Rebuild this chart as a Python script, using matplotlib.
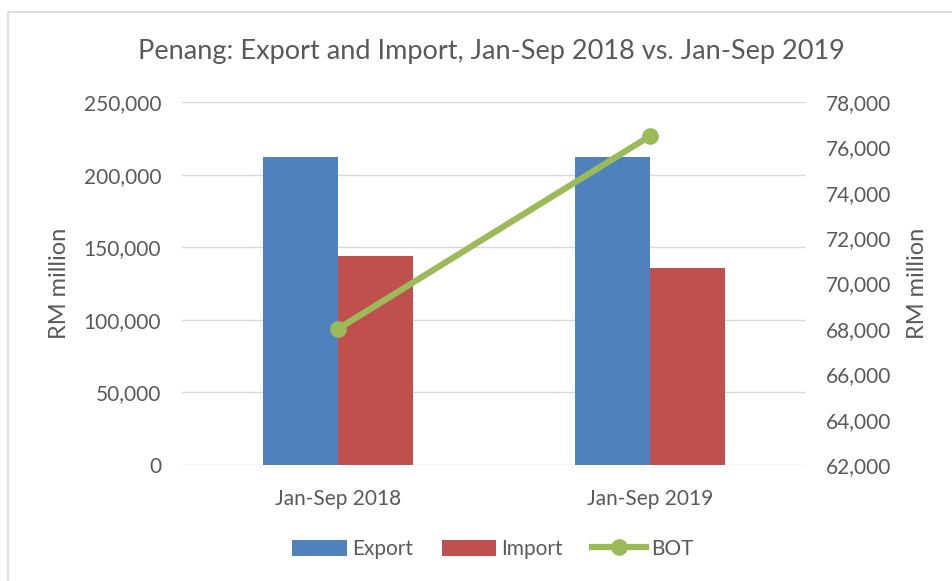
import numpy as np
import matplotlib
matplotlib.use("Agg")
from matplotlib import pyplot as plt
from matplotlib.ticker import FuncFormatter

plt.rcParams['font.family'] = ['Lato', 'DejaVu Sans']

# 데이터
categories = ["Jan-Sep 2018", "Jan-Sep 2019"]
export_vals = [212100, 212200]
import_vals = [144100, 135700]
bot_vals = [68000, 76500]

txt = "#595959"
grid = "#D9D9D9"

fig = plt.figure(figsize=(9.52, 5.81), dpi=100)
# 바깥 테두리
fig.patches.append(plt.Rectangle((8 / 952, -0.1), 1.1, 1 - 12 / 581 + 0.1, transform=fig.transFigure,
                                 fill=False, edgecolor=grid, lw=1.2))

ax = fig.add_axes([182 / 952, 1 - 465 / 581, 624 / 952, 363 / 581])
x = np.arange(len(categories))
w = 0.239
ax.bar(x - w / 2, export_vals, w, color="#4F81BD", label="Export", zorder=2)
ax.bar(x + w / 2, import_vals, w, color="#C0504D", label="Import", zorder=2)
ax.set_xlim(-0.5, 1.5)
ax.set_ylim(0, 250000)
ax.set_yticks(range(0, 250001, 50000))
ax.yaxis.set_major_formatter(FuncFormatter(lambda v, p: f"{int(v):,}"))
ax.set_xticks(x)
ax.set_xticklabels(categories)
ax.grid(axis="y", color=grid, lw=1, zorder=0)
for s in ax.spines.values():
    s.set_visible(False)
ax.tick_params(length=0, labelsize=15, colors=txt)
ax.tick_params(axis="y", pad=15)
ax.tick_params(axis="x", pad=17)
ax.set_ylabel("RM million", fontsize=17, color=txt, labelpad=10)

ax2 = ax.twinx()
ax2.plot(x, bot_vals, color="#9BBB59", lw=4.5, marker="o", markersize=11, label="BOT", zorder=3)
ax2.set_ylim(62000, 78000)
ax2.set_yticks(range(62000, 78001, 2000))
ax2.yaxis.set_major_formatter(FuncFormatter(lambda v, p: f"{int(v):,}"))
for s in ax2.spines.values():
    s.set_visible(False)
ax2.tick_params(length=0, labelsize=15, colors=txt, pad=14)
ax2.set_ylabel("RM million", fontsize=17, color=txt, labelpad=12)

fig.text(0.516, 1 - 52 / 581, "Penang: Export and Import, Jan-Sep 2018 vs. Jan-Sep 2019",
         ha="center", va="center", fontsize=19.5, color=txt)

h1, l1 = ax.get_legend_handles_labels()
h2, l2 = ax2.get_legend_handles_labels()
fig.legend(h1 + h2, l1 + l2, loc="center", bbox_to_anchor=(0.518, 1 - 549 / 581), ncol=3,
           frameon=False, fontsize=15, labelcolor=txt, handlelength=2.6, handleheight=0.8,
           columnspacing=1.4, handletextpad=0.25)

fig.savefig("out.png", dpi=100)
